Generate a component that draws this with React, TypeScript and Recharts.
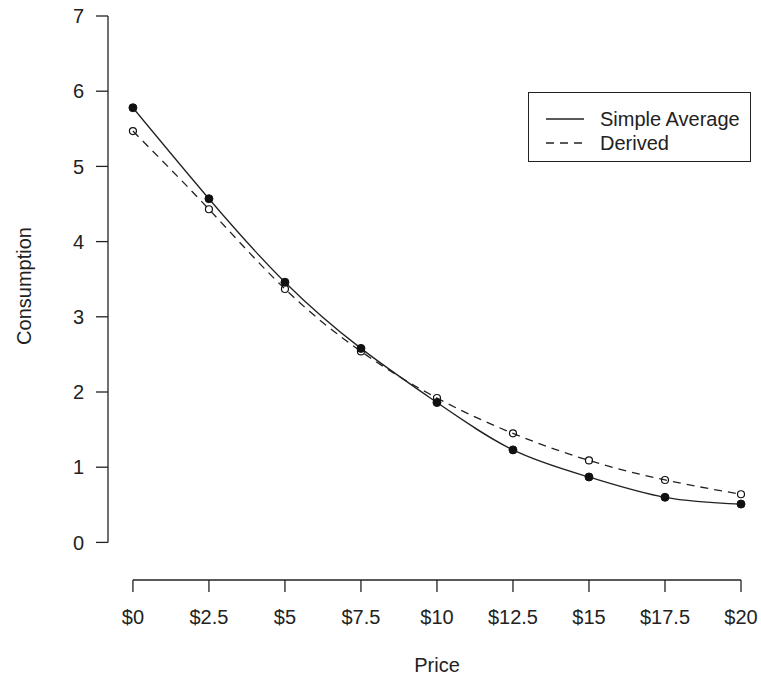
import React from 'react';
import {
    LineChart,
    Line,
    XAxis,
    YAxis,
    ReferenceLine,
    Label,
} from 'recharts';

// price points (x axis) and the two consumption series
const prices = [0, 2.5, 5, 7.5, 10, 12.5, 15, 17.5, 20];
const simpleAverage = [5.78, 4.57, 3.46, 2.58, 1.86, 1.23, 0.87, 0.6, 0.51];
const derived = [5.47, 4.43, 3.37, 2.54, 1.92, 1.45, 1.09, 0.83, 0.64];
const yTicks = [0, 1, 2, 3, 4, 5, 6, 7];
const seriesNames = ['Simple Average', 'Derived'];

const FONT = '"Liberation Sans", Arial, sans-serif';
const INK = '#222';

const chartData = prices.map((p, i) => ({
    price: p,
    simple: simpleAverage[i],
    derived: derived[i],
}));

// R-style boxed legend, sat on top of the plot
const LegendBox = () => (
    <div
        style={{
            position: 'absolute',
            left: 528,
            top: 92,
            width: 223,
            height: 70,
            border: `1px solid ${INK}`,
            background: '#fff',
            boxSizing: 'border-box',
        }}
    >
        <svg width={221} height={68} style={{ position: 'absolute', left: 0, top: 0 }}>
            <line x1={17} x2={55} y1={26} y2={26} stroke={INK} strokeWidth={1.3} />
            <line x1={17} x2={55} y1={50} y2={50} stroke={INK} strokeWidth={1.3} strokeDasharray="8 6" />
            <text x={71} y={26} dominantBaseline="central" fontSize={20} fontFamily={FONT} fill={INK}>
                {seriesNames[0]}
            </text>
            <text x={71} y={50} dominantBaseline="central" fontSize={20} fontFamily={FONT} fill={INK}>
                {seriesNames[1]}
            </text>
        </svg>
    </div>
);

export default function App() {
    const tickStyle = { fontSize: 20, fontFamily: FONT, fill: INK };

    return (
        <div style={{ position: 'absolute', left: 0, top: 0, width: 761, height: 681, background: '#fff' }}>
            <LineChart
                width={761}
                height={681}
                data={chartData}
                margin={{ top: 16, right: 20, left: 48, bottom: 41 }}
            >
                <XAxis
                    dataKey="price"
                    type="number"
                    domain={[-0.82, 20]}
                    ticks={prices}
                    interval={0}
                    tickFormatter={(v: number) => `$${v}`}
                    axisLine={false}
                    tickLine={{ stroke: INK, strokeWidth: 1.3 }}
                    tickSize={12}
                    tickMargin={18}
                    tick={tickStyle}
                    height={60}
                >
                    <Label
                        content={({ viewBox }: any) => (
                            <text
                                x={viewBox.x + 25 + (viewBox.width - 25) / 2}
                                y={viewBox.y + 92}
                                textAnchor="middle"
                                fontSize={20}
                                fontFamily={FONT}
                                fill={INK}
                            >
                                Price
                            </text>
                        )}
                    />
                </XAxis>
                <YAxis
                    type="number"
                    domain={[-0.5, 7]}
                    ticks={yTicks}
                    interval={0}
                    axisLine={false}
                    tickLine={{ stroke: INK, strokeWidth: 1.3 }}
                    tickSize={12}
                    tickMargin={12}
                    tick={tickStyle}
                    width={60}
                >
                    <Label
                        content={({ viewBox }: any) => (
                            <text
                                x={viewBox.x - 24}
                                y={286}
                                textAnchor="middle"
                                dominantBaseline="central"
                                transform={`rotate(-90, ${viewBox.x - 24}, 286)`}
                                fontSize={20}
                                fontFamily={FONT}
                                fill={INK}
                            >
                                Consumption
                            </text>
                        )}
                    />
                </YAxis>

                {/* detached axis lines, spanning first to last tick */}
                <ReferenceLine
                    segment={[{ x: -0.82, y: 0 }, { x: -0.82, y: 7 }]}
                    stroke={INK}
                    strokeWidth={1.3}
                    ifOverflow="visible"
                />
                <ReferenceLine
                    segment={[{ x: 0, y: -0.5 }, { x: 20, y: -0.5 }]}
                    stroke={INK}
                    strokeWidth={1.3}
                    ifOverflow="visible"
                />

                <Line
                    type="natural"
                    dataKey="simple"
                    name={seriesNames[0]}
                    stroke={INK}
                    strokeWidth={1.3}
                    dot={{ r: 4, fill: '#111', stroke: '#111', strokeWidth: 1 }}
                    activeDot={false}
                    isAnimationActive={false}
                />
                <Line
                    type="natural"
                    dataKey="derived"
                    name={seriesNames[1]}
                    stroke={INK}
                    strokeWidth={1.3}
                    strokeDasharray="8 6"
                    dot={{ r: 3.5, fill: 'none', stroke: '#111', strokeWidth: 1.2, strokeDasharray: '0' }}
                    activeDot={false}
                    isAnimationActive={false}
                />
            </LineChart>
            <LegendBox />
        </div>
    );
}
